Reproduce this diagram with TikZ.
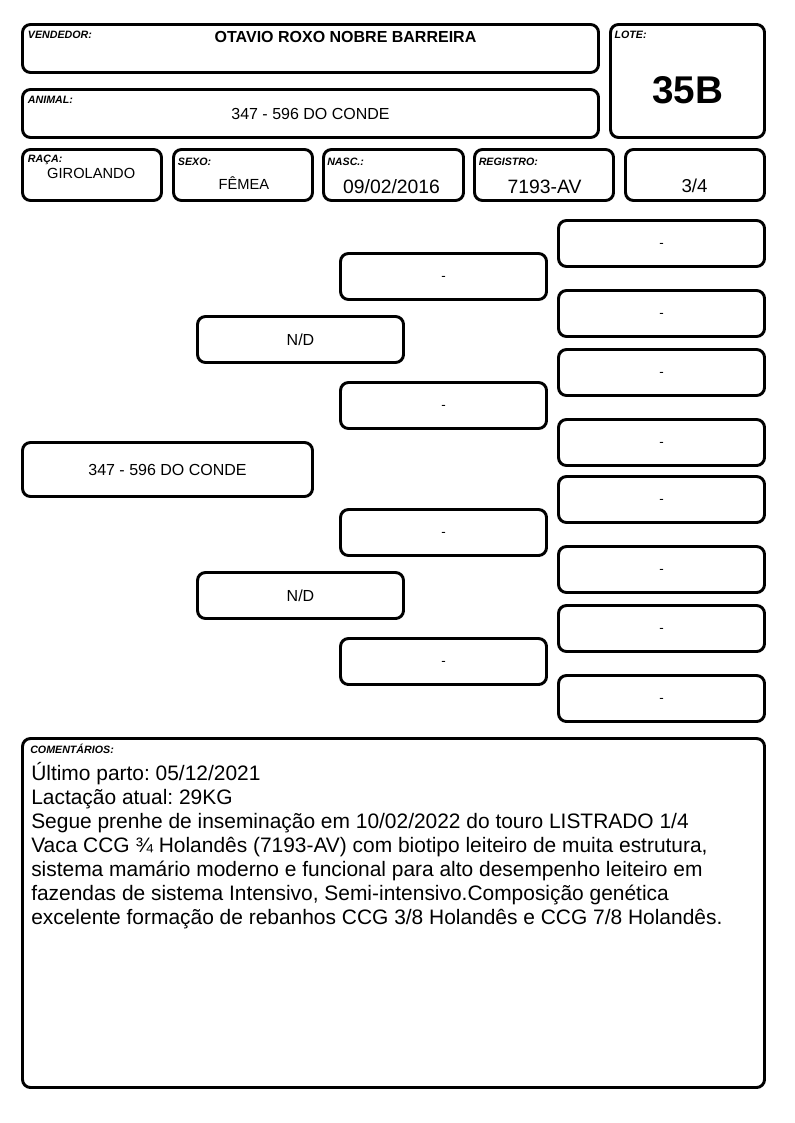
\documentclass[tikz,border=0pt]{standalone}
\usepackage{fontspec}
\setmainfont{Liberation Sans}
\frenchspacing
\begin{document}
\begin{tikzpicture}[x=0.75pt,y=-0.75pt,
  frame/.style 2 args={draw, line width=2.2pt, rounded corners=6pt,
    minimum width=#1*0.75pt, minimum height=#2*0.75pt, inner sep=0pt, outer sep=0pt},
  lab/.style={font=\fontsize{8}{9}\selectfont\bfseries\itshape, anchor=base west, inner sep=0pt},
  val/.style={anchor=base, inner sep=0pt},
  ped/.style={frame={206}{46}, font=\fontsize{10}{12}\selectfont, text height=0.54em, text depth=0pt},
  nd/.style={frame={206}{46}, font=\fontsize{12}{14}\selectfont},
  cline/.style={anchor=base west, inner sep=0pt, font=\fontsize{15.7}{18}\selectfont}
]
\useasboundingbox (0,0) rectangle (794,1123);
\fill[white] (0,0) rectangle (794,1123);

% header frames
\node[frame={576}{48}] (vend) at (310.5,48.5) {};
\node[frame={576}{48}] (anim) at (310.5,113.5) {};
\node[frame={154}{113}] (lote) at (687.5,81) {};
\node[frame={139}{51}] (raca) at (92,175) {};
\node[frame={139}{51}] (sexo) at (243,175) {};
\node[frame={140}{51}] (nasc) at (393.5,175) {};
\node[frame={139}{51}] (reg) at (544,175) {};
\node[frame={139}{51}] (frac) at (695,175) {};

% header labels
\node[lab] (lvend) at (27.7,39) {VENDEDOR:};
\node[lab] (lanim) at (27.7,103.3) {ANIMAL:};
\node[lab] (llote) at (614.3,39) {LOTE:};
\node[lab] (lraca) at (27.7,162.7) {RAÇA:};
\node[lab] (lsexo) at (177.7,165.7) {SEXO:};
\node[lab] (lnasc) at (327,165.7) {NASC.:};
\node[lab] (lreg) at (478.5,165.7) {REGISTRO:};

% header values
\node[val, font=\fontsize{12}{14}\selectfont\bfseries] (tvend) at (345.5,42.7) {OTAVIO ROXO NOBRE BARREIRA};
\node[val, font=\fontsize{12}{14}\selectfont] (tanim) at (310.5,119.3) {347 - 596 DO CONDE};
\node[val, font=\fontsize{29}{32}\selectfont\bfseries] (tlote) at (687.5,103.7) {35B};
\node[val, font=\fontsize{11}{13}\selectfont] (traca) at (91.2,178.3) {GIROLANDO};
\node[val, font=\fontsize{11}{13}\selectfont] (tsexo) at (243.8,190) {FÊMEA};
\node[val, font=\fontsize{14.5}{17}\selectfont] (tnasc) at (391.6,194) {09/02/2016};
\node[val, font=\fontsize{14.5}{17}\selectfont] (treg) at (544.5,194) {7193-AV};
\node[val, font=\fontsize{14}{17}\selectfont] (tfrac) at (694.5,193) {3/4};

% pedigree
\node[frame={290}{54}, font=\fontsize{12}{14}\selectfont] (p1) at (167.5,469.5) {347 - 596 DO CONDE};
\node[nd] (n1) at (300.5,339.5) {N/D};
\node[nd] (n2) at (300.5,595.5) {N/D};
\node[ped] (g1) at (443.5,276.5) {-};
\node[ped] (g2) at (443.5,405.5) {-};
\node[ped] (g3) at (443.5,532.5) {-};
\node[ped] (g4) at (443.5,661.5) {-};
\node[ped] (h1) at (661.5,243.5) {-};
\node[ped] (h2) at (661.5,313.5) {-};
\node[ped] (h3) at (661.5,372.5) {-};
\node[ped] (h4) at (661.5,442.5) {-};
\node[ped] (h5) at (661.5,499.5) {-};
\node[ped] (h6) at (661.5,569.5) {-};
\node[ped] (h7) at (661.5,628.5) {-};
\node[ped] (h8) at (661.5,698.5) {-};

% comments
\node[frame={742}{349}] (com) at (393.5,913) {};
\node[lab] (lcom) at (30,753.3) {COMENTÁRIOS:};
\node[cline] (c1) at (31,780.5) {Último parto: 05/12/2021};
\node[cline] (c2) at (31,804.5) {Lactação atual: 29KG};
\node[cline] (c3) at (31,828.5) {Segue prenhe de inseminação em 10/02/2022 do touro LISTRADO 1/4};
\node[cline] (c4) at (31,852.5) {Vaca CCG ¾ Holandês (7193-AV) com biotipo leiteiro de muita estrutura,};
\node[cline] (c5) at (31,876.5) {sistema mamário moderno e funcional para alto desempenho leiteiro em};
\node[cline] (c6) at (31,900.5) {fazendas de sistema Intensivo, Semi-intensivo.Composição genética};
\node[cline] (c7) at (31,924.5) {excelente formação de rebanhos CCG 3/8 Holandês e CCG 7/8 Holandês.};
\end{tikzpicture}
\end{document}
